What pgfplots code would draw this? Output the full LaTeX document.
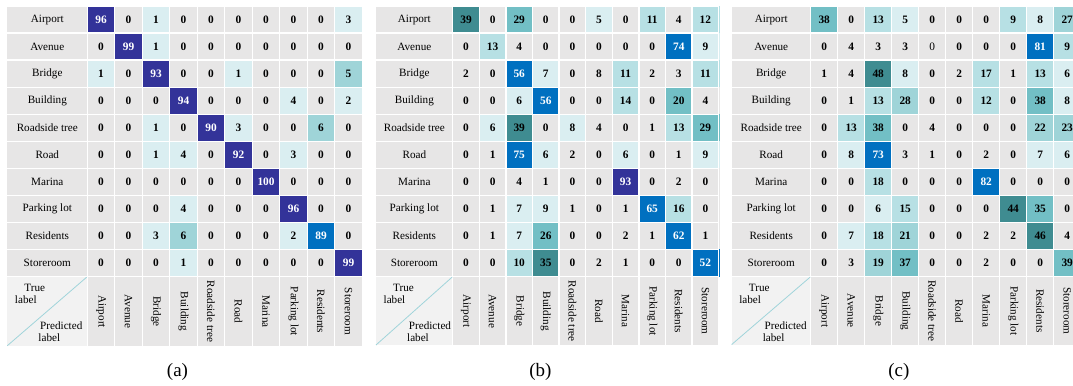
\documentclass[border=0pt]{standalone}
\usepackage{pgfplots}
\usepackage{pgfplotstable}
\pgfplotsset{compat=1.18}
\usepackage{fontspec}
\setmainfont{Liberation Serif}
\definecolor{cG}{RGB}{231,230,230}
\definecolor{cCorner}{RGB}{242,242,242}
\definecolor{cDiag}{RGB}{160,212,218}
\pgfplotsset{
  colormap={conf}{rgb255=(231,230,230) rgb255=(218,238,241) rgb255=(183,224,228) rgb255=(159,212,216) rgb255=(114,191,197) rgb255=(63,140,145) rgb255=(0,112,192) rgb255=(51,51,153) rgb255=(231,230,230)},
}
\newcommand{\labelfont}{\fontsize{11.2}{13}\selectfont}
\newcommand{\numfont}{\fontsize{11.4}{13}\selectfont\bfseries}
\newcommand{\numfontreg}{\fontsize{11.4}{13}\selectfont}

% columns: x (predicted), y (true), c (colour class), v (value in %)
\pgfplotstableread[row sep=\\]{
x y c v\\
0 0 7 96\\ 1 0 0 0\\ 2 0 1 1\\ 3 0 0 0\\ 4 0 0 0\\ 5 0 0 0\\ 6 0 0 0\\ 7 0 0 0\\ 8 0 0 0\\ 9 0 1 3\\
0 1 0 0\\ 1 1 7 99\\ 2 1 1 1\\ 3 1 0 0\\ 4 1 0 0\\ 5 1 0 0\\ 6 1 0 0\\ 7 1 0 0\\ 8 1 0 0\\ 9 1 0 0\\
0 2 1 1\\ 1 2 0 0\\ 2 2 7 93\\ 3 2 0 0\\ 4 2 0 0\\ 5 2 1 1\\ 6 2 0 0\\ 7 2 0 0\\ 8 2 0 0\\ 9 2 3 5\\
0 3 0 0\\ 1 3 0 0\\ 2 3 0 0\\ 3 3 7 94\\ 4 3 0 0\\ 5 3 0 0\\ 6 3 0 0\\ 7 3 1 4\\ 8 3 0 0\\ 9 3 1 2\\
0 4 0 0\\ 1 4 0 0\\ 2 4 1 1\\ 3 4 0 0\\ 4 4 7 90\\ 5 4 1 3\\ 6 4 0 0\\ 7 4 0 0\\ 8 4 3 6\\ 9 4 0 0\\
0 5 0 0\\ 1 5 0 0\\ 2 5 1 1\\ 3 5 1 4\\ 4 5 0 0\\ 5 5 7 92\\ 6 5 0 0\\ 7 5 1 3\\ 8 5 0 0\\ 9 5 0 0\\
0 6 0 0\\ 1 6 0 0\\ 2 6 0 0\\ 3 6 0 0\\ 4 6 0 0\\ 5 6 0 0\\ 6 6 7 100\\ 7 6 0 0\\ 8 6 0 0\\ 9 6 0 0\\
0 7 0 0\\ 1 7 0 0\\ 2 7 0 0\\ 3 7 1 4\\ 4 7 0 0\\ 5 7 0 0\\ 6 7 0 0\\ 7 7 7 96\\ 8 7 0 0\\ 9 7 0 0\\
0 8 0 0\\ 1 8 0 0\\ 2 8 1 3\\ 3 8 3 6\\ 4 8 0 0\\ 5 8 0 0\\ 6 8 0 0\\ 7 8 1 2\\ 8 8 6 89\\ 9 8 0 0\\
0 9 0 0\\ 1 9 0 0\\ 2 9 0 0\\ 3 9 1 1\\ 4 9 0 0\\ 5 9 0 0\\ 6 9 0 0\\ 7 9 0 0\\ 8 9 0 0\\ 9 9 7 99\\
}\tabA

\pgfplotstableread[row sep=\\]{
x y c v\\
0 0 5 39\\ 1 0 0 0\\ 2 0 4 29\\ 3 0 0 0\\ 4 0 0 0\\ 5 0 1 5\\ 6 0 0 0\\ 7 0 2 11\\ 8 0 0 4\\ 9 0 2 12\\
0 1 0 0\\ 1 1 2 13\\ 2 1 0 4\\ 3 1 0 0\\ 4 1 0 0\\ 5 1 0 0\\ 6 1 0 0\\ 7 1 0 0\\ 8 1 6 74\\ 9 1 1 9\\
0 2 0 2\\ 1 2 0 0\\ 2 2 6 56\\ 3 2 1 7\\ 4 2 0 0\\ 5 2 0 8\\ 6 2 2 11\\ 7 2 0 2\\ 8 2 0 3\\ 9 2 2 11\\
0 3 0 0\\ 1 3 0 0\\ 2 3 1 6\\ 3 3 6 56\\ 4 3 0 0\\ 5 3 0 0\\ 6 3 2 14\\ 7 3 0 0\\ 8 3 4 20\\ 9 3 0 4\\
0 4 0 0\\ 1 4 1 6\\ 2 4 5 39\\ 3 4 0 0\\ 4 4 1 8\\ 5 4 0 4\\ 6 4 0 0\\ 7 4 0 1\\ 8 4 2 13\\ 9 4 4 29\\
0 5 0 0\\ 1 5 0 1\\ 2 5 6 75\\ 3 5 1 6\\ 4 5 0 2\\ 5 5 0 0\\ 6 5 1 6\\ 7 5 0 0\\ 8 5 0 1\\ 9 5 1 9\\
0 6 0 0\\ 1 6 0 0\\ 2 6 0 4\\ 3 6 0 1\\ 4 6 0 0\\ 5 6 0 0\\ 6 6 7 93\\ 7 6 0 0\\ 8 6 0 2\\ 9 6 0 0\\
0 7 0 0\\ 1 7 0 1\\ 2 7 1 7\\ 3 7 1 9\\ 4 7 0 1\\ 5 7 0 0\\ 6 7 0 1\\ 7 7 6 65\\ 8 7 2 16\\ 9 7 0 0\\
0 8 0 0\\ 1 8 0 1\\ 2 8 1 7\\ 3 8 4 26\\ 4 8 0 0\\ 5 8 0 0\\ 6 8 0 2\\ 7 8 0 1\\ 8 8 6 62\\ 9 8 0 1\\
0 9 0 0\\ 1 9 0 0\\ 2 9 2 10\\ 3 9 5 35\\ 4 9 0 0\\ 5 9 0 2\\ 6 9 0 1\\ 7 9 0 0\\ 8 9 0 0\\ 9 9 6 52\\
}\tabB

% class 8 = grey cell with the number set in regular weight
\pgfplotstableread[row sep=\\]{
x y c v\\
0 0 4 38\\ 1 0 0 0\\ 2 0 2 13\\ 3 0 1 5\\ 4 0 0 0\\ 5 0 0 0\\ 6 0 0 0\\ 7 0 2 9\\ 8 0 1 8\\ 9 0 3 27\\
0 1 0 0\\ 1 1 0 4\\ 2 1 0 3\\ 3 1 0 3\\ 4 1 8 0\\ 5 1 0 0\\ 6 1 0 0\\ 7 1 0 0\\ 8 1 6 81\\ 9 1 2 9\\
0 2 0 1\\ 1 2 0 4\\ 2 2 5 48\\ 3 2 1 8\\ 4 2 0 0\\ 5 2 0 2\\ 6 2 2 17\\ 7 2 0 1\\ 8 2 2 13\\ 9 2 1 6\\
0 3 0 0\\ 1 3 0 1\\ 2 3 2 13\\ 3 3 3 28\\ 4 3 0 0\\ 5 3 0 0\\ 6 3 2 12\\ 7 3 0 0\\ 8 3 4 38\\ 9 3 1 8\\
0 4 0 0\\ 1 4 2 13\\ 2 4 4 38\\ 3 4 0 0\\ 4 4 0 4\\ 5 4 0 0\\ 6 4 0 0\\ 7 4 0 0\\ 8 4 3 22\\ 9 4 3 23\\
0 5 0 0\\ 1 5 1 8\\ 2 5 6 73\\ 3 5 0 3\\ 4 5 0 1\\ 5 5 0 0\\ 6 5 0 2\\ 7 5 0 0\\ 8 5 1 7\\ 9 5 1 6\\
0 6 0 0\\ 1 6 0 0\\ 2 6 2 18\\ 3 6 0 0\\ 4 6 0 0\\ 5 6 0 0\\ 6 6 6 82\\ 7 6 0 0\\ 8 6 0 0\\ 9 6 0 0\\
0 7 0 0\\ 1 7 0 0\\ 2 7 1 6\\ 3 7 2 15\\ 4 7 0 0\\ 5 7 0 0\\ 6 7 0 0\\ 7 7 5 44\\ 8 7 4 35\\ 9 7 0 0\\
0 8 0 0\\ 1 8 1 7\\ 2 8 2 18\\ 3 8 3 21\\ 4 8 0 0\\ 5 8 0 0\\ 6 8 0 2\\ 7 8 0 2\\ 8 8 5 46\\ 9 8 0 4\\
0 9 0 0\\ 1 9 0 3\\ 2 9 3 19\\ 3 9 4 37\\ 4 9 0 0\\ 5 9 0 0\\ 6 9 0 2\\ 7 9 0 0\\ 8 9 0 0\\ 9 9 4 39\\
}\tabC

% #1 xL, #2 xG, #3 column width, #4 bottom of label row, #5 table, #6 caption x, #7 caption
\newcommand{\panel}[7]{%
  \pgfmathsetmacro{\gw}{10*#3}%
  \begin{axis}[
    at={(#2bp,-6bp)}, anchor=north west,
    scale only axis, width=\gw bp, height=270.5bp,
    xmin=-0.5, xmax=9.5, ymin=-0.5, ymax=9.5, y dir=reverse,
    axis line style={draw=none}, tick style={draw=none},
    xtick={-0.5,0.5,...,9.5}, ytick={-0.5,0.5,...,9.5},
    xticklabels={}, yticklabels={},
    grid=major, major grid style={white, line width=1.3bp},
    axis on top,
    colormap name=conf, colormap access=direct,
    point meta min=0, point meta max=8,
    /pgf/number format/assume math mode=true,
    clip=false,
  ]
  \addplot[matrix plot*, mesh/cols=10, point meta=explicit] table[x=x,y=y,meta=c] {#5};
  \addplot[draw=none, mark=none, point meta=\thisrow{v}, nodes near coords,
    every node near coord/.append style={font=\numfont, text=black, anchor=center},
    restrict expr to domain={\thisrow{c}}{0:5}] table[x=x,y=y] {#5};
  \addplot[draw=none, mark=none, point meta=\thisrow{v}, nodes near coords,
    every node near coord/.append style={font=\numfont, text=white, anchor=center},
    restrict expr to domain={\thisrow{c}}{6:7}] table[x=x,y=y] {#5};
  \addplot[draw=none, mark=none, point meta=\thisrow{v}, nodes near coords,
    every node near coord/.append style={font=\numfontreg, text=black, anchor=center},
    restrict expr to domain={\thisrow{c}}{8:8}] table[x=x,y=y] {#5};
  \end{axis}
  \begin{scope}[x=1bp,y=-1bp]
    \foreach \i/\n in {0/Airport,1/Avenue,2/Bridge,3/Building,4/Roadside tree,5/Road,6/Marina,7/Parking lot,8/Residents,9/Storeroom} {
      \fill[cG] (#1, 6+\i*27.05+0.65) rectangle (#2-0.65, 6+\i*27.05+27.05-0.65);
      \node[font=\labelfont, inner sep=0pt] at ({(#1+#2)/2}, 6+\i*27.05+13.5) {\n};
      \fill[cG] ({#2+\i*#3+0.65}, 277.2) rectangle ({#2+(\i+1)*#3-0.65}, #4);
      \node[font=\labelfont, inner sep=0pt, rotate=-90] at ({#2+(\i+0.5)*#3}, {(277.2+#4)/2}) {\n};
    }
    \fill[cCorner] (#1, 277.2) rectangle (#2-0.65, #4);
    \draw[cDiag, line width=0.8bp] (#1, #4) -- (#2-0.65, 277.2);
    \node[font=\labelfont, inner sep=0pt] at (#1+27.5, 288) {True};
    \node[font=\labelfont, inner sep=0pt] at (#1+18.5, 300) {label};
    \node[font=\labelfont, inner sep=0pt] at (#1+54, 325.5) {Predicted};
    \node[font=\labelfont, inner sep=0pt] at (#1+42, 338) {label};
    \node[font=\fontsize{19}{22}\selectfont, inner sep=0pt] at (#6, 371.5) {#7};
  \end{scope}
}

\begin{document}
\begin{tikzpicture}
  \path[use as bounding box] (0,0) rectangle (1073bp,-386bp);
  \panel{7.3}{87.3}{27.5}{345.7}{\tabA}{177.5}{(a)}
  \panel{376}{452.7}{26.6}{345}{\tabB}{540.3}{(b)}
  \panel{731.7}{810.7}{27.0}{344.5}{\tabC}{898.8}{(c)}
\end{tikzpicture}
\end{document}
